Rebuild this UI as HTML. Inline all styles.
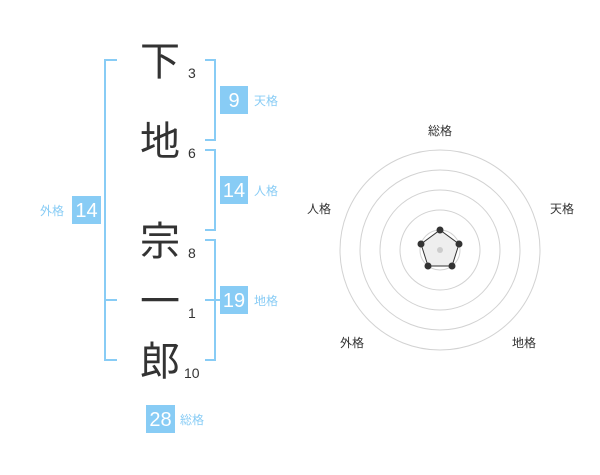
<!DOCTYPE html>
<html><head><meta charset="utf-8"><style>
body{margin:0;width:600px;height:470px;background:#fff;overflow:hidden}
</style></head><body>
<svg width="600" height="470" xmlns="http://www.w3.org/2000/svg" font-family="'Liberation Sans','Noto Sans CJK JP',sans-serif">
<g stroke="#88ccf5" stroke-width="2" fill="none">
<path d="M117 60H105V360H117M105 300H117"/>
<path d="M205 60H215V140H205"/>
<path d="M205 150H215V230H205"/>
<path d="M205 240H215V360H205M205 300H220"/>
</g>
<g font-size="40" fill="#333" text-anchor="middle" font-family="'Noto Sans CJK JP',sans-serif">
<text x="160" y="75">下</text>
<text x="160" y="155">地</text>
<text x="160" y="255">宗</text>
<text x="160" y="315">一</text>
<text x="160" y="375">郎</text>
</g>
<g font-size="14" fill="#333">
<text x="188" y="78">3</text>
<text x="188" y="158">6</text>
<text x="188" y="258">8</text>
<text x="188" y="318">1</text>
<text x="184" y="378">10</text>
</g>
<g fill="#88ccf5">
<rect x="220" y="86" width="28" height="28"/>
<rect x="220" y="176" width="28" height="28"/>
<rect x="220" y="286" width="28" height="28"/>
<rect x="72" y="196" width="29" height="28"/>
<rect x="146" y="405" width="29" height="28"/>
</g>
<g fill="#fff" font-size="20" text-anchor="middle">
<text x="234" y="107">9</text>
<text x="234" y="197">14</text>
<text x="234" y="307">19</text>
<text x="86.5" y="217">14</text>
<text x="160.5" y="426">28</text>
</g>
<g fill="#88ccf5" font-size="12" font-family="'Noto Sans CJK JP',sans-serif">
<text x="254" y="105">天格</text>
<text x="254" y="195">人格</text>
<text x="254" y="305">地格</text>
<text x="40" y="215">外格</text>
<text x="180" y="424">総格</text>
</g>
<g fill="none" stroke="#d2d2d2" stroke-width="1">
<circle cx="440" cy="250" r="100"/>
<circle cx="440" cy="250" r="80"/>
<circle cx="440" cy="250" r="60"/>
<circle cx="440" cy="250" r="40"/>
<circle cx="440" cy="250" r="20"/>
</g>
<polygon points="440,230 459,244 452,266 428,266 421,244" fill="#eee" stroke="#333" stroke-width="1"/>
<circle cx="440" cy="250" r="3" fill="#ccc"/>
<g fill="#333">
<circle cx="440" cy="230" r="3.5"/><circle cx="459" cy="244" r="3.5"/><circle cx="452" cy="266" r="3.5"/><circle cx="428" cy="266" r="3.5"/><circle cx="421" cy="244" r="3.5"/>
</g>
<g fill="#333" font-size="12" text-anchor="middle" font-family="'Noto Sans CJK JP',sans-serif">
<text x="440" y="135">総格</text>
<text x="562" y="213">天格</text>
<text x="524" y="347">地格</text>
<text x="352" y="347">外格</text>
<text x="319" y="213">人格</text>
</g>
</svg>
</body></html>
